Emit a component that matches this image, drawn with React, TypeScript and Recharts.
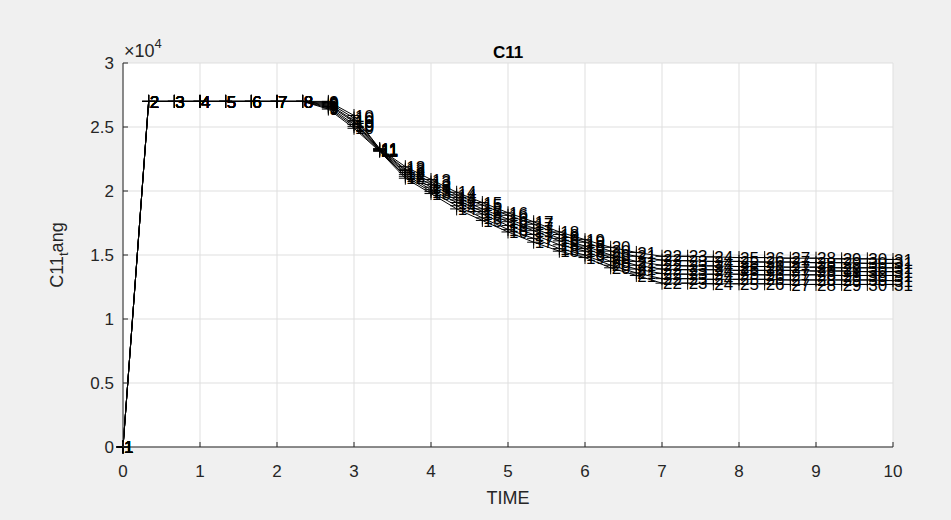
import React from "react";
import { CartesianGrid, Line, LineChart, XAxis, YAxis } from "recharts";

// sample times (s), one every third of a second
const TIME = [
  0, 0.333, 0.667, 1, 1.333, 1.667, 2, 2.333, 2.667, 3, 3.333, 3.667, 4, 4.333, 4.667, 5,
  5.333, 5.667, 6, 6.333, 6.667, 7, 7.333, 7.667, 8, 8.333, 8.667, 9, 9.333, 9.667, 10,
];

// C11 tangent stiffness per run
const RUN_A = [
  0, 27000, 27000, 27000, 27000, 27000, 27000, 27000, 27000, 25900, 23300, 21900, 20900, 19900, 19100, 18300,
  17600, 16800, 16200, 15600, 15200, 14900, 14900, 14850, 14800, 14800, 14750, 14750, 14700, 14700, 14650,
];
const RUN_B = [
  0, 27000, 27000, 27000, 27000, 27000, 27000, 27000, 26900, 25700, 23300, 21700, 20700, 19700, 18900, 18100,
  17400, 16600, 16000, 15300, 14900, 14600, 14550, 14500, 14500, 14450, 14450, 14400, 14400, 14350, 14350,
];
const RUN_C = [
  0, 27000, 27000, 27000, 27000, 27000, 27000, 27000, 26800, 25500, 23250, 21600, 20500, 19500, 18600, 17800,
  17100, 16300, 15700, 15000, 14500, 14200, 14150, 14150, 14100, 14100, 14050, 14050, 14000, 14000, 14000,
];
const RUN_D = [
  0, 27000, 27000, 27000, 27000, 27000, 27000, 27000, 26700, 25400, 23200, 21450, 20300, 19300, 18400, 17600,
  16900, 16100, 15500, 14800, 14200, 13900, 13850, 13850, 13800, 13800, 13800, 13750, 13750, 13700, 13700,
];
const RUN_E = [
  0, 27000, 27000, 27000, 27000, 27000, 27000, 27000, 26600, 25200, 23200, 21300, 20100, 19100, 18200, 17300,
  16600, 15800, 15300, 14500, 13900, 13550, 13500, 13500, 13500, 13450, 13450, 13450, 13400, 13400, 13400,
];
const RUN_F = [
  0, 27000, 27000, 27000, 27000, 27000, 27000, 27000, 26500, 25050, 23150, 21150, 19950, 18850, 17900, 17000,
  16300, 15500, 15000, 14200, 13600, 13150, 13150, 13100, 13100, 13100, 13050, 13050, 13050, 13050, 13000,
];
const RUN_G = [
  0, 27000, 27000, 27000, 27000, 27000, 27000, 27000, 26400, 24900, 23100, 21000, 19800, 18600, 17700, 16800,
  16000, 15300, 14800, 14000, 13400, 12800, 12800, 12750, 12750, 12750, 12700, 12700, 12700, 12700, 12700,
];

const RUNS = [RUN_A, RUN_B, RUN_C, RUN_D, RUN_E, RUN_F, RUN_G];
const X_TICKS = [0, 1, 2, 3, 4, 5, 6, 7, 8, 9, 10];
const Y_TICKS = [0, 5000, 10000, 15000, 20000, 25000, 30000];

const FONT = '"Liberation Sans", Arial, Helvetica, sans-serif';
const INK = "#262626";

const rows = TIME.map((t, i) => {
  const r: Record<string, number> = { t };
  RUNS.forEach((run, j) => (r["r" + j] = run[i]));
  return r;
});

// "+" marker with the sample number written to its right
function PointMark(props: any) {
  const { cx, cy, index } = props;
  if (cx == null || cy == null) return null;
  return (
    <g key={index}>
      <line x1={cx - 6.5} x2={cx + 6.5} y1={cy} y2={cy} stroke="#000" strokeWidth={1} />
      <line x1={cx} x2={cx} y1={cy - 6.5} y2={cy + 6.5} stroke="#000" strokeWidth={1} />
      <text x={cx + 1} y={cy} dy="0.36em" fontSize={17} fontFamily={FONT} fill="#000">
        {index + 1}
      </text>
    </g>
  );
}

function XTick({ x, y, payload }: any) {
  return (
    <g>
      <line x1={x} x2={x} y1={y} y2={y - 5} stroke={INK} />
      <text x={x} y={y + 30} textAnchor="middle" fontSize={17} fontFamily={FONT} fill={INK}>
        {payload.value}
      </text>
    </g>
  );
}

function YTick({ x, y, payload }: any) {
  return (
    <g>
      <line x1={x} x2={x + 5} y1={y} y2={y} stroke={INK} />
      <text x={x - 9} y={y + 6} textAnchor="end" fontSize={17} fontFamily={FONT} fill={INK}>
        {payload.value / 10000}
      </text>
    </g>
  );
}

export default function App() {
  return (
    <div style={{ position: "fixed", left: 0, top: 0, width: 951, height: 520, background: "#f0f0f0" }}>
      <LineChart width={951} height={520} data={rows} margin={{ top: 63, right: 58, bottom: 0, left: 0 }}>
        <CartesianGrid stroke="#dfdfdf" fill="#fff" />
        <XAxis
          dataKey="t"
          type="number"
          domain={[0, 10]}
          ticks={X_TICKS}
          height={73}
          tickSize={0}
          tickMargin={0}
          tickLine={false}
          stroke={INK}
          tick={<XTick />}
        />
        <YAxis
          type="number"
          domain={[0, 30000]}
          ticks={Y_TICKS}
          width={123}
          tickSize={0}
          tickMargin={0}
          tickLine={false}
          stroke={INK}
          tick={<YTick />}
        />
        {RUNS.map((_, j) => (
          <Line
            key={j}
            dataKey={"r" + j}
            type="linear"
            stroke="#000"
            strokeWidth={1}
            dot={PointMark}
            activeDot={false}
            isAnimationActive={false}
          />
        ))}
      </LineChart>
      <svg
        width={951}
        height={520}
        style={{ position: "absolute", left: 0, top: 0, pointerEvents: "none" }}
        fontFamily={FONT}
      >
        <text x={508} y={58} textAnchor="middle" fontSize={17} fontWeight="bold" fill="#000">
          C11
        </text>
        <text x={124} y={57} fontSize={18} fill={INK}>
          ×10
          <tspan dy={-9} fontSize={13}>
            4
          </tspan>
        </text>
        <text x={508} y={504} textAnchor="middle" fontSize={18} fill={INK}>
          TIME
        </text>
        <text transform="translate(63,255) rotate(-90)" textAnchor="middle" fontSize={18} fill={INK}>
          C11
          <tspan dy={5} fontSize={13}>
            t
          </tspan>
          <tspan dy={-5}>ang</tspan>
        </text>
      </svg>
    </div>
  );
}
